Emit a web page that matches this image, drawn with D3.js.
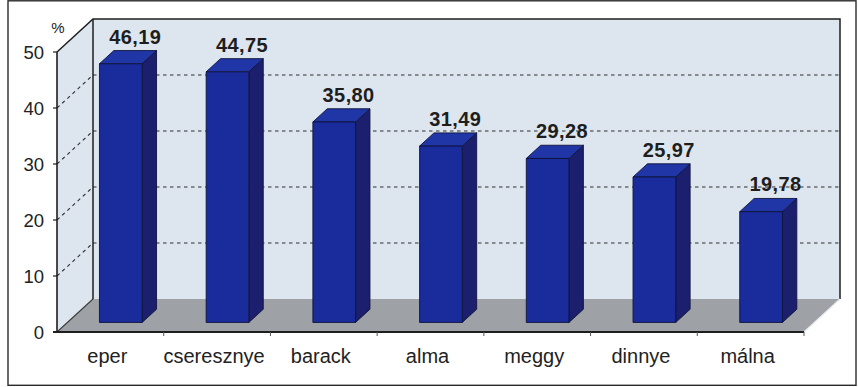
<!DOCTYPE html>
<html>
<head>
<meta charset="utf-8">
<script src="https://cdn.jsdelivr.net/npm/d3@7"></script>
<style>
  html, body { margin: 0; padding: 0; background: #ffffff; }
  svg { display: block; }
  text { font-family: "Liberation Sans", Arial, sans-serif; }
</style>
</head>
<body>
<svg id="chart" width="858" height="387"></svg>
<script>
// Fruit categories and their percentage values
const categories = ["eper", "cseresznye", "barack", "alma", "meggy", "dinnye", "málna"];
const values = [46.19, 44.75, 35.80, 31.49, 29.28, 25.97, 19.78];
const yTicks = [0, 10, 20, 30, 40, 50];
const unitLabel = "%";

const svg = d3.select("#chart");

// Front plane of the 3D box
const x0 = 57, x1 = 804;
const x = d3.scaleBand().domain(categories).range([x0, x1]).paddingInner(0).paddingOuter(0);
const y = d3.scaleLinear().domain([0, 50]).range([332, 52]);

// Depth vector from the front plane to the back wall
const DX = 36, DY = -33;
const off = f => [DX * f, DY * f];
const pt = (px, py, f) => [px + DX * f, py + DY * f];

const wallFill = "#dde6ee";
const floorFill = "#9ea2a7";
const lineCol = "#1e1e1e";

// Outer frame
svg.append("rect")
  .attr("x", 8).attr("y", 0.8).attr("width", 848).attr("height", 384.5)
  .attr("fill", "none").attr("stroke", "#2a2a2a").attr("stroke-width", 1.4);

const poly = pts => pts.map(p => p.join(",")).join(" ");

// Side wall (left)
svg.append("polygon")
  .attr("points", poly([[x0, y(50)], pt(x0, y(50), 1), pt(x0, y(0), 1), [x0, y(0)]]))
  .attr("fill", wallFill);

// Back wall
svg.append("polygon")
  .attr("points", poly([pt(x0, y(50), 1), pt(x1, y(50), 1), pt(x1, y(0), 1), pt(x0, y(0), 1)]))
  .attr("fill", wallFill);

// Floor
svg.append("polygon")
  .attr("points", poly([[x0, y(0)], [x1, y(0)], pt(x1, y(0), 1), pt(x0, y(0), 1)]))
  .attr("fill", floorFill);

// Dashed gridlines on the back wall and on the side wall
const grid = svg.append("g")
  .attr("stroke", "#2e2e2e").attr("stroke-width", 1.1)
  .attr("stroke-dasharray", "3.5,3.5").attr("fill", "none");
yTicks.filter(t => t > 0 && t < 50).forEach(t => {
  const a = pt(x0, y(t), 1), b = pt(x1, y(t), 1);
  grid.append("line").attr("x1", a[0]).attr("y1", a[1]).attr("x2", b[0]).attr("y2", b[1]);
  grid.append("line").attr("x1", x0).attr("y1", y(t)).attr("x2", a[0]).attr("y2", a[1]);
});

// Wall outlines
const edges = svg.append("g").attr("stroke", lineCol).attr("stroke-width", 1.5).attr("fill", "none");
edges.append("polyline")
  .attr("points", poly([[x0, y(50)], pt(x0, y(50), 1), pt(x1, y(50), 1), pt(x1, y(0), 1)]));
edges.append("line")
  .attr("x1", pt(x0, 0, 1)[0]).attr("y1", pt(x0, y(50), 1)[1])
  .attr("x2", pt(x0, 0, 1)[0]).attr("y2", pt(x0, y(0), 1)[1]);
edges.append("line")
  .attr("x1", x0).attr("y1", y(0))
  .attr("x2", pt(x0, y(0), 1)[0]).attr("y2", pt(x0, y(0), 1)[1])
  .attr("stroke", "#3a3a3a").attr("stroke-width", 1.1);
edges.append("line")
  .attr("x1", x1).attr("y1", y(0))
  .attr("x2", pt(x1, y(0), 1)[0]).attr("y2", pt(x1, y(0), 1)[1])
  .attr("stroke", "#e8ecef").attr("stroke-width", 1.2);

// 3D bars
const fFront = 0.29, fBack = 0.69;
const bw = x.bandwidth() * 0.4;
const bars = svg.append("g");
const data = categories.map((c, i) => ({ c, v: values[i] }));

data.forEach(d => {
  const cx = x(d.c) + x.bandwidth() / 2;
  const l = cx - bw / 2, r = cx + bw / 2;
  const yt = y(d.v), yb = y(0);
  const fl = pt(l, yt, fFront), fr = pt(r, yt, fFront);
  const flb = pt(l, yb, fFront), frb = pt(r, yb, fFront);
  const bl = pt(l, yt, fBack), br = pt(r, yt, fBack), brb = pt(r, yb, fBack);
  const g = bars.append("g").attr("stroke", "#10143a").attr("stroke-width", 0.9).attr("stroke-linejoin", "round");
  // side face
  g.append("polygon").attr("points", poly([fr, br, brb, frb])).attr("fill", "#1b1f6e");
  // top face
  g.append("polygon").attr("points", poly([fl, fr, br, bl])).attr("fill", "#2036a6");
  // front face
  g.append("polygon").attr("points", poly([fl, fr, frb, flb])).attr("fill", "#1a2b9c");
});

// Value labels above each bar
svg.append("g").selectAll("text").data(data).join("text")
  .attr("x", d => x(d.c) + x.bandwidth() / 2 + off(fBack)[0])
  .attr("y", d => y(d.v) + off(fBack)[1] - 7)
  .attr("text-anchor", "middle")
  .attr("font-size", 20).attr("font-weight", "bold").attr("fill", "#1e1e1e")
  .attr("letter-spacing", 0.4)
  .text(d => d3.format(".2f")(d.v).replace(".", ","));

// Front vertical axis with ticks and labels
svg.append("line").attr("x1", x0).attr("y1", y(50)).attr("x2", x0).attr("y2", y(0))
  .attr("stroke", lineCol).attr("stroke-width", 1.6);
const yAx = svg.append("g");
yTicks.forEach(t => {
  yAx.append("line").attr("x1", x0 - 4).attr("x2", x0).attr("y1", y(t)).attr("y2", y(t))
    .attr("stroke", lineCol).attr("stroke-width", 1.2);
  yAx.append("text").attr("x", x0 - 13).attr("y", y(t)).attr("dy", "0.36em")
    .attr("text-anchor", "end").attr("font-size", 18.5).attr("fill", "#222")
    .text(t);
});
svg.append("text").attr("x", 58).attr("y", 33).attr("text-anchor", "middle")
  .attr("font-size", 15).attr("fill", "#222").text(unitLabel);

// Front horizontal axis (floor edge) with category ticks and labels
svg.append("line").attr("x1", x0 - 4).attr("y1", y(0)).attr("x2", x1).attr("y2", y(0))
  .attr("stroke", lineCol).attr("stroke-width", 2);
const xAx = svg.append("g");
categories.forEach((c, i) => {
  xAx.append("line").attr("x1", x(c) + x.bandwidth()).attr("x2", x(c) + x.bandwidth())
    .attr("y1", y(0)).attr("y2", y(0) + 4).attr("stroke", "#555").attr("stroke-width", 1);
  xAx.append("text").attr("x", x(c) + x.bandwidth() / 2 - 3).attr("y", 363)
    .attr("text-anchor", "middle").attr("font-size", 20).attr("fill", "#222")
    .text(c);
});
</script>
</body>
</html>
